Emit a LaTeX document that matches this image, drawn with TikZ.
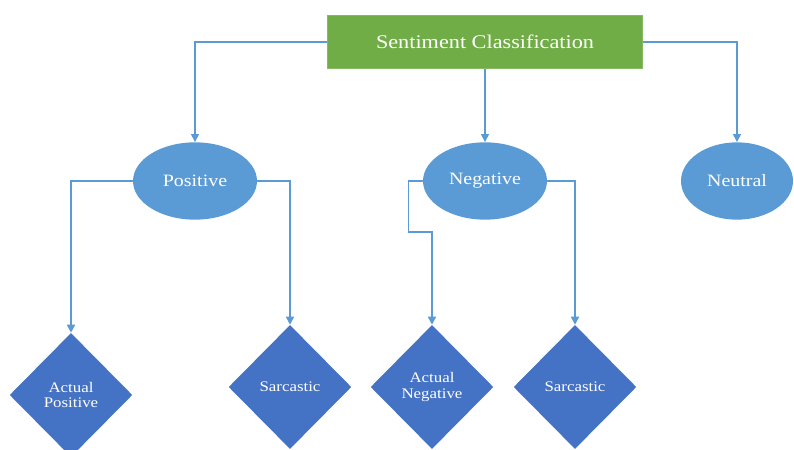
\documentclass[tikz,border=0pt]{standalone}
\usepackage{fontspec}
\setmainfont[FakeStretch=1.15]{Liberation Serif}
\usetikzlibrary{arrows.meta,shapes.geometric}
\definecolor{leaf}{HTML}{70AD47}
\definecolor{sky}{HTML}{5B9BD5}
\definecolor{royal}{HTML}{4472C4}
\tikzset{
  header/.style={
    draw=leaf!85!white,
    fill=leaf,
    line width=0.6pt,
    minimum width=236pt,
    minimum height=40pt,
    text=white,
    font=\fontsize{14.5}{17}\selectfont
  },
  polarity/.style={
    ellipse,
    fill=sky,
    minimum width=93pt,
    minimum height=58pt,
    inner sep=0pt,
    text=white,
    font=\fontsize{13}{15}\selectfont
  },
  outcome/.style={
    diamond,
    fill=royal,
    minimum width=92pt,
    minimum height=93pt,
    inner sep=0pt,
    align=center,
    text=white,
    font=\fontsize{11}{11.5}\selectfont
  },
  flow/.style={
    -{Triangle[length=6pt,width=6pt]},
    draw=sky,
    line width=1.1pt
  }
}

\begin{document}
\begin{tikzpicture}[x=0.75pt,y=-0.75pt]
  \useasboundingbox (0,0) rectangle (794,450);

  % Root
  \node[header] (root) at (485,42) {Sentiment Classification};

  % Polarity classes
  \node[polarity] (pos) at (195,181) {Positive};
  \node[polarity] (neg) at (485,181) {Negative};
  \node[polarity, minimum width=84pt] (neu) at (737,181) {Neutral};

  % Outcomes
  \node[outcome] (actpos) at (71,395) {Actual\\Positive};
  \node[outcome] (sarpos) at (290,387) {Sarcastic};
  \node[outcome] (actneg) at (432,387) {Actual\\Negative};
  \node[outcome] (sarneg) at (575,387) {Sarcastic};

  % Root to classes
  \draw[flow] (root.west) -| (pos.north);
  \draw[flow] (root.south) -- (neg.north);
  \draw[flow] (root.east) -| (neu.north);

  % Classes to outcomes
  \draw[flow] (pos.west) -| (actpos.north);
  \draw[flow] (pos.east) -| (sarpos.north);
  \draw[flow] (neg.west) -| ++(-14,51) -| (actneg.north);
  \draw[flow] (neg.east) -| (sarneg.north);
\end{tikzpicture}
\end{document}
